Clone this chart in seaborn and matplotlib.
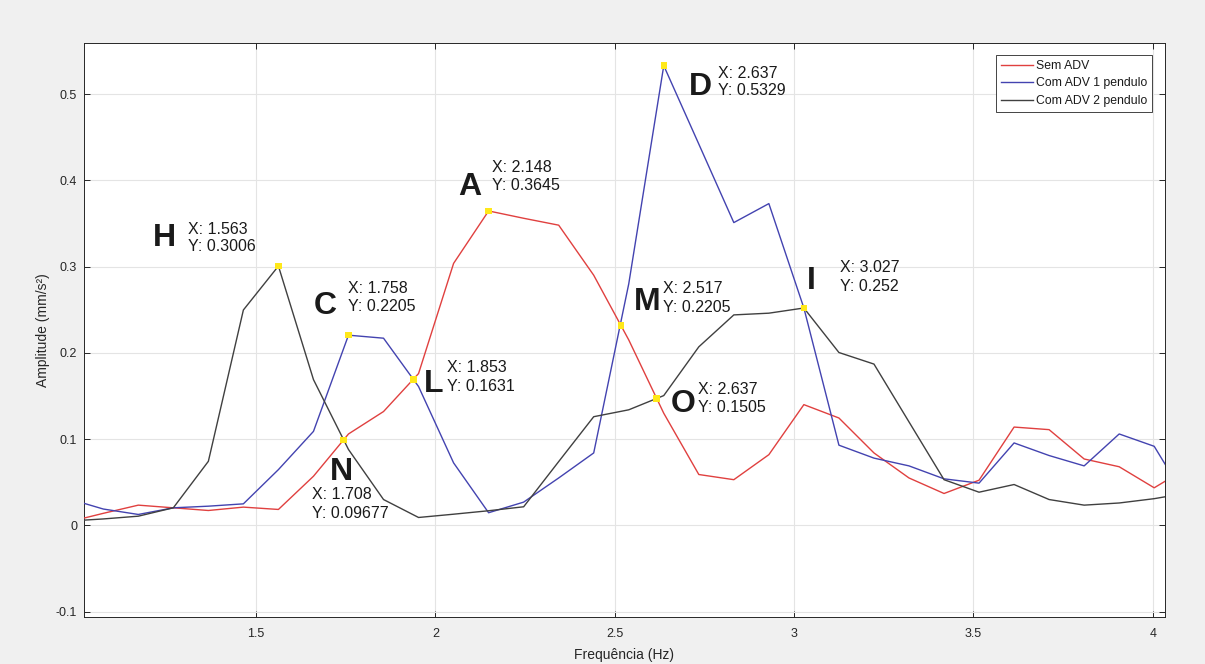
import matplotlib
matplotlib.use("Agg")
import matplotlib.pyplot as plt
import seaborn as sns
import pandas as pd
from matplotlib.lines import Line2D

# ---------------- data ----------------
freq = [0.9766, 1.0742, 1.1719, 1.2695, 1.3672, 1.4648, 1.5625, 1.6602, 1.7578,
        1.8555, 1.9531, 2.0508, 2.1484, 2.2461, 2.3438, 2.4414, 2.5391, 2.6367,
        2.7344, 2.8320, 2.9297, 3.0273, 3.1250, 3.2227, 3.3203, 3.4180, 3.5156,
        3.6133, 3.7109, 3.8086, 3.9063, 4.0039, 4.1016]

sem_adv = [0.004, 0.014, 0.0235, 0.0204, 0.0173, 0.0212, 0.0185, 0.057, 0.106,
           0.132, 0.176, 0.3037, 0.3645, 0.356, 0.348, 0.290, 0.215, 0.130,
           0.059, 0.053, 0.082, 0.140, 0.1245, 0.084, 0.055, 0.037, 0.0524,
           0.114, 0.111, 0.077, 0.068, 0.0436, 0.068]

adv_1 = [0.031, 0.019, 0.0127, 0.0204, 0.0223, 0.025, 0.0647, 0.109, 0.2205,
         0.217, 0.161, 0.0725, 0.0147, 0.027, 0.055, 0.084, 0.28, 0.5329,
         0.442, 0.351, 0.373, 0.252, 0.093, 0.078, 0.069, 0.054, 0.049,
         0.0956, 0.081, 0.069, 0.106, 0.0917, 0.025]

adv_2 = [0.005, 0.0075, 0.0107, 0.0204, 0.0743, 0.2497, 0.3006, 0.169, 0.088,
         0.030, 0.0092, 0.013, 0.017, 0.0216, 0.074, 0.126, 0.134, 0.1505,
         0.207, 0.244, 0.246, 0.252, 0.2004, 0.187, 0.12, 0.053, 0.0385,
         0.0474, 0.030, 0.0235, 0.026, 0.031, 0.038]

series_names = ["Sem ADV", "Com ADV 1 pendulo", "Com ADV 2 pendulo"]
series_colors = ["#e0403f", "#4343b0", "#404040"]

xticks = [1.5, 2, 2.5, 3, 3.5, 4]
xtick_labels = ["1.5", "2", "2.5", "3", "3.5", "4"]
yticks = [-0.1, 0, 0.1, 0.2, 0.3, 0.4, 0.5]
ytick_labels = ["-0.1", "0", "0.1", "0.2", "0.3", "0.4", "0.5"]

# data tips
tip_letters = ["H", "C", "N", "L", "A", "M", "O", "I", "D"]
tip_x = [1.5625, 1.7578, 1.7434, 1.9385, 2.1484, 2.517, 2.617, 3.0273, 2.6367]
tip_y = [0.3006, 0.2205, 0.099, 0.1693, 0.3645, 0.232, 0.1473, 0.252, 0.5329]
tip_xtxt = ["X: 1.563", "X: 1.758", "X: 1.708", "X: 1.853", "X: 2.148",
            "X: 2.517", "X: 2.637", "X: 3.027", "X: 2.637"]
tip_ytxt = ["Y: 0.3006", "Y: 0.2205", "Y: 0.09677", "Y: 0.1631", "Y: 0.3645",
            "Y: 0.2205", "Y: 0.1505", "Y: 0.252", "Y: 0.5329"]

# layout of the tip labels (figure pixels, from top-left)
letter_pos = [(164, 234), (325, 302), (341.7, 468.3), (433.3, 380), (470, 183.3),
              (646.7, 298.3), (683.3, 400), (811.7, 277.3), (700, 83.3)]
text_left = [188.3, 348.3, 311.7, 446.7, 491.7, 663.3, 698.3, 840, 718.3]
text_rows = [(228, 245), (287, 305), (493.3, 511.7), (366.7, 385), (166, 184.3),
             (287.3, 305.7), (388.3, 406.7), (266.7, 285), (71.7, 89.3)]

# ---------------- build ----------------
rows = []
for name, vals in zip(series_names, [sem_adv, adv_1, adv_2]):
    for f, v in zip(freq, vals):
        rows.append({"freq": f, "amp": v, "serie": name})
df = pd.DataFrame(rows)

plt.rcParams["font.family"] = ["Liberation Sans", "DejaVu Sans"]

W, H = 1205, 664
fig = plt.figure(figsize=(W / 100, H / 100), dpi=100, facecolor="#f0f0f0")
ax = fig.add_axes([84 / W, (H - 617.3) / H, (1165 - 84) / W, (617.3 - 42.7) / H])
ax.set_facecolor("white")

sns.lineplot(data=df, x="freq", y="amp", hue="serie", palette=series_colors,
             hue_order=series_names, estimator=None, sort=False, linewidth=1.0,
             ax=ax, legend=False, zorder=3)

ax.set_xlim(1.0205, 4.034)
ax.set_ylim(-0.1065, 0.5595)
ax.set_xticks(xticks)
ax.set_xticklabels(xtick_labels)
ax.set_yticks(yticks)
ax.set_yticklabels(ytick_labels)

ax.grid(True, color="#e4e4e4", linewidth=0.8, zorder=0)
ax.set_axisbelow(True)
for sp in ax.spines.values():
    sp.set_color("#262626")
    sp.set_linewidth(0.7)
ax.tick_params(direction="in", length=4, width=0.7, color="#262626",
               labelcolor="#262626", labelsize=9, top=True, right=True)
ax.tick_params(axis="x", pad=8)
ax.tick_params(axis="y", pad=5)

ax.set_xlabel("Frequência (Hz)", fontsize=10, color="#262626", va="center")
ax.set_ylabel("Amplitude (mm/s²)", fontsize=10, color="#262626", va="center")
ax.xaxis.set_label_coords(0.5, (617.3 - 655) / 574.6)
ax.yaxis.set_label_coords((43 - 84) / 1081, 0.5)

# markers
ax.scatter(tip_x, tip_y, marker="s", s=22, color="#ffe81a", edgecolors="none", zorder=5)

# labels
inv = ax.transData.inverted()
def to_data(px, py):
    return inv.transform((px, H - py))

for i in range(len(tip_letters)):
    lx, ly = letter_pos[i]
    x0, y0 = to_data(lx, ly + 11.7)
    ax.text(x0, y0, tip_letters[i], fontsize=23, fontweight="bold", color="#1a1a1a",
            ha="center", va="baseline", zorder=6)
    r1, r2 = text_rows[i]
    x1, y1 = to_data(text_left[i], r1 + 5.8)
    ax.text(x1, y1, tip_xtxt[i], fontsize=11.5, color="#1a1a1a", ha="left",
            va="baseline", zorder=6)
    x2, y2 = to_data(text_left[i], r2 + 5.8)
    ax.text(x2, y2, tip_ytxt[i], fontsize=11.5, color="#1a1a1a", ha="left",
            va="baseline", zorder=6)

handles = [Line2D([], [], color=c, linewidth=1.0) for c in series_colors]
leg = ax.legend(handles, series_names, loc="upper right",
                bbox_to_anchor=((1152.3 - 84) / 1081, (617.3 - 55) / 574.6),
                borderaxespad=0, fontsize=8.8, frameon=True, fancybox=False,
                framealpha=1, edgecolor="#262626", handlelength=2.6,
                handletextpad=0.25, labelspacing=0.45, borderpad=0.4)
leg.get_frame().set_linewidth(0.6)
for t in leg.get_texts():
    t.set_color("#1a1a1a")

fig.savefig("out.png", dpi=100, facecolor=fig.get_facecolor())
